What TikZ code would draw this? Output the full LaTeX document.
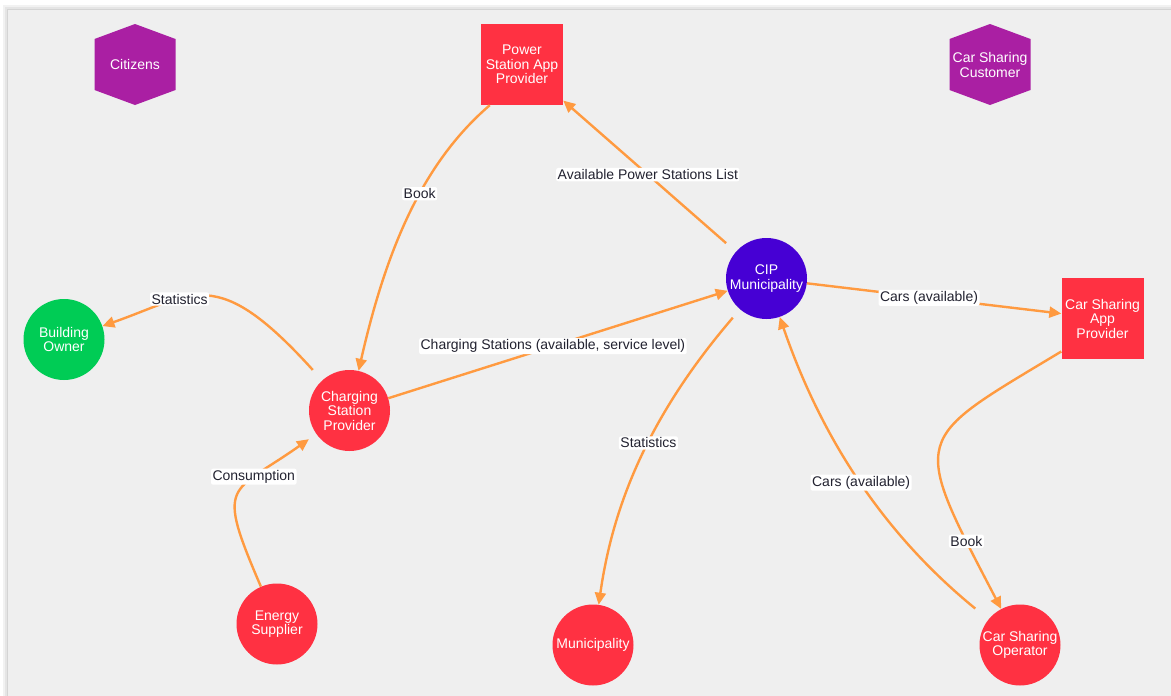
\documentclass[tikz,border=0pt]{standalone}
\usepackage{fontspec}
\setmainfont{Liberation Sans}
\usetikzlibrary{arrows.meta}
\definecolor{panelgray}{HTML}{EFEFEF}
\definecolor{nodered}{RGB}{255,49,66}
\definecolor{hexpurple}{RGB}{170,31,163}
\definecolor{ownergreen}{RGB}{0,204,85}
\definecolor{cipblue}{RGB}{70,0,212}
\definecolor{flow}{RGB}{255,154,64}
\definecolor{labeltext}{RGB}{34,34,48}
\begin{document}
\begin{tikzpicture}[x=1pt,y=-1pt,
  every node/.style={font=\fontsize{14}{14.5}\selectfont, align=center},
  actor/.style={circle, minimum size=81pt, inner sep=0pt, text=white, fill=nodered},
  app/.style={rectangle, minimum width=82pt, minimum height=81pt, inner sep=0pt, fill=nodered, text=white},
  hextext/.style={inner sep=0pt, text=white},
  flowline/.style={draw=flow, line width=2.4pt, -{Triangle[length=12pt,width=11pt]}},
  flowlabel/.style={fill=white, rounded corners=2pt, inner sep=1.5pt, text=labeltext, font=\fontsize{14}{14}\selectfont},
  hexbadge/.pic={\fill[hexpurple] (0,-40.5) -- (40.5,-25.5) -- (40.5,25.5) -- (0,40.5) -- (-40.5,25.5) -- (-40.5,-25.5) -- cycle;}
]
% canvas and panel with a soft shadow on its upper and left edges
\useasboundingbox (0,0) rectangle (1171,696);
\fill[white] (0,0) rectangle (1171,696);
\fill[black!5] (3,5) rectangle (1171,696);
\fill[black!10] (5,7) rectangle (1171,696);
\fill[black!17] (6.5,8.5) rectangle (1171,696);
\fill[panelgray] (8,10) rectangle (1171,696);

% hexagonal stakeholders
\pic at (135,64.5) {hexbadge};
\node[hextext] (cit) at (135,64.5) {Citizens};
\pic at (990,64.5) {hexbadge};
\node[hextext] (csc) at (990,65) {Car Sharing\\Customer};

% apps and actors
\node[app] (psap) at (522,64.5) {Power\\Station App\\Provider};
\node[app] (csap) at (1102.5,318.5) {Car Sharing\\App\\Provider};
\node[actor, fill=cipblue] (cip) at (766.5,278.5) {CIP\\Municipality};
\node[actor, fill=ownergreen] (bo) at (64,339.5) {Building\\Owner};
\node[actor] (csp) at (349.5,410.5) {Charging\\Station\\Provider};
\node[actor] (es) at (277,624) {Energy\\Supplier};
\node[actor] (mun) at (593,645) {Municipality};
\node[actor] (cso) at (1020,645) {Car Sharing\\Operator};

% information flows
\draw[flowline] ([xshift=9pt]psap.south west) .. controls (420,165) and (385,255) .. (csp)
  node[flowlabel, pos=0.41] {Book};
\draw[flowline, shorten <=13pt] (cip) -- (psap)
  node[flowlabel, pos=0.51] {Available Power Stations List};
\draw[flowline] (csp) -- (cip)
  node[flowlabel, pos=0.485] {Charging Stations (available, service level)};
\draw[flowline] (cip) -- (csap)
  node[flowlabel, pos=0.48] {Cars (available)};
\draw[flowline, shorten <=11pt] (cip) .. controls (645,420) and (612,511) .. (mun)
  node[flowlabel, pos=0.43] {Statistics};
\draw[flowline, shorten <=17pt] (cso) .. controls (885,535) and (822,440) .. (cip)
  node[flowlabel, pos=0.5] {Cars (available)};
\draw[flowline] ([yshift=-33pt]csap.west) .. controls (911,442) and (909.5,433) .. (cso)
  node[flowlabel, pos=0.85] {Book};
\draw[flowline, shorten <=14pt] (csp) .. controls (216,263) and (194,294) .. (bo)
  node[flowlabel, pos=0.65] {Statistics};
\draw[flowline, shorten >=9pt] (es) .. controls (215,480) and (230,495) .. (csp)
  node[flowlabel, pos=0.67] {Consumption};
\end{tikzpicture}
\end{document}
